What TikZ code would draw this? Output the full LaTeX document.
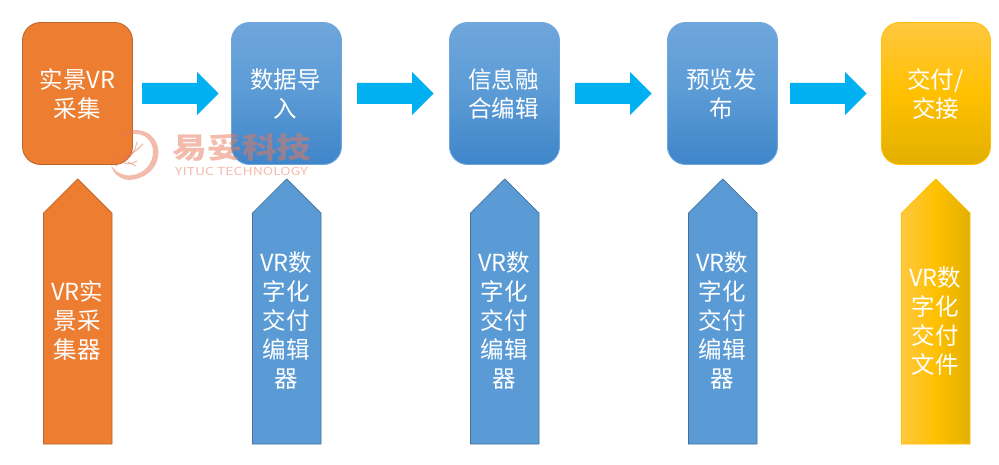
\documentclass[tikz,border=0pt]{standalone}
\usepackage{fontspec}
\setmainfont{Noto Sans CJK SC}
\usetikzlibrary{shadings}
\definecolor{orangeF}{HTML}{ED7D31}
\definecolor{orangeD}{HTML}{B9642A}
\definecolor{blueF}{HTML}{5B9BD5}
\definecolor{blueD}{HTML}{41719C}
\definecolor{blueT}{HTML}{6FA6DC}
\definecolor{blueB}{HTML}{3F85C9}
\definecolor{yelT}{HTML}{FFC840}
\definecolor{yelM}{HTML}{FFC000}
\definecolor{yelB}{HTML}{E2B000}
\definecolor{cyanF}{HTML}{00B0F0}
\definecolor{wm}{HTML}{E8795A}
\pgfdeclareverticalshading{bluev}{100bp}{color(0bp)=(blueB);color(25bp)=(blueB);color(50bp)=(blueF);color(75bp)=(blueT);color(100bp)=(blueT)}
\pgfdeclareverticalshading{yelv}{100bp}{color(0bp)=(yelB);color(25bp)=(yelB);color(50bp)=(yelM);color(75bp)=(yelT);color(100bp)=(yelT)}
\pgfdeclarehorizontalshading{yelh}{100bp}{color(0bp)=(yelT);color(25bp)=(yelT);color(50bp)=(yelM);color(75bp)=(yelB);color(100bp)=(yelB)}
\tikzset{
  x=1pt,y=-1pt,
  lbl/.style={text=white,align=center,inner sep=0pt,font=\fontsize{23.5}{29}\selectfont},
  stagebox/.style={rounded corners=18pt,line width=0.8pt},
  orangebox/.style={stagebox,fill=orangeF,draw=orangeD},
  bluebox/.style={stagebox,shading=bluev,draw=blueT},
  yelbox/.style={stagebox,shading=yelv,draw=yelM},
  uparrow/.style={line width=0.7pt,line join=miter},
  flowarrow/.style={fill=cyanF},
}
\newcommand{\flowarr}[1]{\fill[flowarrow] (#1,83)--(#1+55,83)--(#1+55,72)--(#1+76.5,93.5)--(#1+55,115)--(#1+55,104)--(#1,104)--cycle;}
\newcommand{\uparr}[2]{\path[uparrow,#2] (#1,444)--(#1,213)--(#1+34.25,179)--(#1+68.5,213)--(#1+68.5,444)--cycle;}
\begin{document}
\begin{tikzpicture}
\useasboundingbox (0,0) rectangle (999,465);
\fill[white] (0,0) rectangle (999,465);
% stage boxes
\path[orangebox] (22.5,22.5) rectangle (132.5,164.5);
\path[bluebox] (231.5,22.5) rectangle (341.5,164.5);
\path[bluebox] (449.5,22.5) rectangle (559.5,164.5);
\path[bluebox] (667.5,22.5) rectangle (777.5,164.5);
\path[yelbox] (881.5,22.5) rectangle (990.5,164.5);
\node[lbl] (s1) at (77.5,94) {实景VR\\采集};
\node[lbl] (s2) at (285.5,94) {数据导\\入};
\node[lbl] (s3) at (503.5,94) {信息融\\合编辑};
\node[lbl] (s4) at (721.5,94) {预览发\\布};
\node[lbl] (s5) at (935.5,94) {交付/\\交接};
% flow arrows
\flowarr{142}
\flowarr{357}
\flowarr{575}
\flowarr{790}
% up arrows
\uparr{43.5}{fill=orangeF,draw=orangeD}
\uparr{252.5}{fill=blueF,draw=blueD}
\uparr{470.5}{fill=blueF,draw=blueD}
\uparr{688.5}{fill=blueF,draw=blueD}
\uparr{901.5}{shading=yelh,draw=yelM}
\node[lbl] (t1) at (77,320.5) {VR实\\景采\\集器};
\node[lbl] (t2) at (286,321) {VR数\\字化\\交付\\编辑\\器};
\node[lbl] (t3) at (504,321) {VR数\\字化\\交付\\编辑\\器};
\node[lbl] (t4) at (722,321) {VR数\\字化\\交付\\编辑\\器};
\node[lbl] (t5) at (935,321.5) {VR数\\字化\\交付\\文件};
% watermark
\begin{scope}[opacity=0.5,wm]
\fill (112,142) .. controls (118,133) and (132,128) .. (143,131)
  .. controls (155,135) and (160,146) .. (158,157)
  .. controls (156,170) and (144,179) .. (130,180)
  .. controls (120,180) and (113,173) .. (111,165)
  .. controls (115,172) and (124,177) .. (133,175)
  .. controls (145,173) and (153,163) .. (153,152)
  .. controls (153,142) and (146,134) .. (136,134)
  .. controls (126,133) and (117,136) .. (112,142) -- cycle;
\draw[line width=1.3pt,line cap=round] (116,166) .. controls (122,158) and (134,154) .. (143,144);
\draw[line width=1pt,line cap=round] (130,157) .. controls (134,152) and (136,147) .. (137,142);
\draw[line width=1pt,line cap=round] (124,160) .. controls (128,154) and (130,150) .. (131,146);
\draw[line width=1pt,line cap=round] (124,163) .. controls (128,164) and (132,164) .. (137,161);
\draw[line width=1pt,line cap=round] (128,162) -- (136,166);
\draw[line width=1.6pt,line cap=round] (112,162) .. controls (115,156) and (118,153) .. (122,151);
\node[inner sep=0pt,xscale=1.2,font=\fontsize{29}{29}\bfseries\selectfont] (wm1) at (242,148) {易妥科技};
\node[inner sep=0pt,xscale=1.27,font=\fontsize{11}{12}\selectfont] (wm2) at (241.5,171.5) {YITUC TECHNOLOGY};
\end{scope}
\end{tikzpicture}
\end{document}
